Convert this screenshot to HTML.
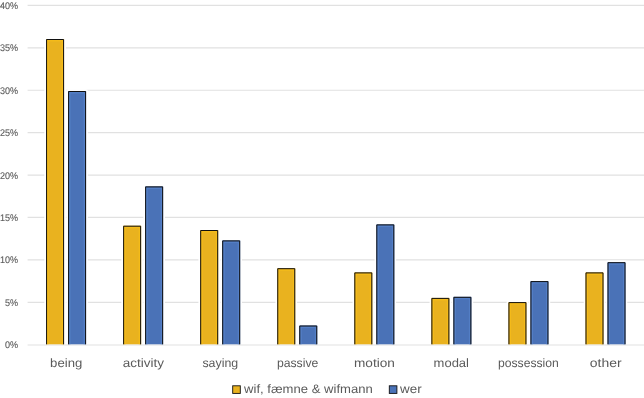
<!DOCTYPE html>
<html><head><meta charset="utf-8"><title>chart</title>
<style>
html,body{margin:0;padding:0;background:#fff;}
body{width:644px;height:398px;overflow:hidden;font-family:"Liberation Sans",sans-serif;}
svg{display:block}
text{font-family:"Liberation Sans",sans-serif;fill:#5a5a5a;text-rendering:geometricPrecision}
</style></head><body>
<svg width="644" height="398" viewBox="0 0 644 398">

<line x1="27.6" y1="302.29" x2="644" y2="302.29" stroke="#E1E1E1" stroke-width="1.2"/>
<line x1="27.6" y1="259.88" x2="644" y2="259.88" stroke="#E1E1E1" stroke-width="1.2"/>
<line x1="27.6" y1="217.47" x2="644" y2="217.47" stroke="#E1E1E1" stroke-width="1.2"/>
<line x1="27.6" y1="175.06" x2="644" y2="175.06" stroke="#E1E1E1" stroke-width="1.2"/>
<line x1="27.6" y1="132.65" x2="644" y2="132.65" stroke="#E1E1E1" stroke-width="1.2"/>
<line x1="27.6" y1="90.24" x2="644" y2="90.24" stroke="#E1E1E1" stroke-width="1.2"/>
<line x1="27.6" y1="47.83" x2="644" y2="47.83" stroke="#E1E1E1" stroke-width="1.2"/>
<line x1="27.6" y1="5.42" x2="644" y2="5.42" stroke="#E1E1E1" stroke-width="1.2"/>
<rect x="44.28" y="37.20" width="21.6" height="309.30" rx="1.8" fill="#fff"/>
<rect x="66.28" y="89.20" width="21.6" height="257.30" rx="1.8" fill="#fff"/>
<rect x="121.34" y="223.90" width="21.6" height="122.60" rx="1.8" fill="#fff"/>
<rect x="143.34" y="184.60" width="21.6" height="161.90" rx="1.8" fill="#fff"/>
<rect x="198.40" y="228.20" width="21.6" height="118.30" rx="1.8" fill="#fff"/>
<rect x="220.40" y="238.60" width="21.6" height="107.90" rx="1.8" fill="#fff"/>
<rect x="275.46" y="266.40" width="21.6" height="80.10" rx="1.8" fill="#fff"/>
<rect x="297.46" y="323.70" width="21.6" height="22.80" rx="1.8" fill="#fff"/>
<rect x="352.52" y="270.60" width="21.6" height="75.90" rx="1.8" fill="#fff"/>
<rect x="374.52" y="222.60" width="21.6" height="123.90" rx="1.8" fill="#fff"/>
<rect x="429.58" y="296.10" width="21.6" height="50.40" rx="1.8" fill="#fff"/>
<rect x="451.58" y="295.00" width="21.6" height="51.50" rx="1.8" fill="#fff"/>
<rect x="506.64" y="300.30" width="21.6" height="46.20" rx="1.8" fill="#fff"/>
<rect x="528.64" y="279.30" width="21.6" height="67.20" rx="1.8" fill="#fff"/>
<rect x="583.70" y="270.60" width="21.6" height="75.90" rx="1.8" fill="#fff"/>
<rect x="605.70" y="260.40" width="21.6" height="86.10" rx="1.8" fill="#fff"/>
<line x1="27.6" y1="345.00" x2="644" y2="345.00" stroke="#E1E1E1" stroke-width="1.2"/>
<rect x="46.08" y="39.00" width="18" height="305.30" fill="#E9B21F"/>
<path d="M47.78 344.30 V40.70 H62.38 V344.30" fill="none" stroke="#F7BE19" stroke-width="1.6" stroke-opacity="0.75"/>
<path d="M46.58 344.30 V39.50 H63.58 V344.30" fill="none" stroke="#101010" stroke-width="1"/>
<rect x="68.08" y="91.00" width="18" height="253.30" fill="#4A72B7"/>
<path d="M69.78 344.30 V92.70 H84.38 V344.30" fill="none" stroke="#5783C9" stroke-width="1.6" stroke-opacity="0.75"/>
<path d="M68.58 344.30 V91.50 H85.58 V344.30" fill="none" stroke="#101010" stroke-width="1"/>
<rect x="123.14" y="225.70" width="18" height="118.60" fill="#E9B21F"/>
<path d="M124.84 344.30 V227.40 H139.44 V344.30" fill="none" stroke="#F7BE19" stroke-width="1.6" stroke-opacity="0.75"/>
<path d="M123.64 344.30 V226.20 H140.64 V344.30" fill="none" stroke="#101010" stroke-width="1"/>
<rect x="145.14" y="186.40" width="18" height="157.90" fill="#4A72B7"/>
<path d="M146.84 344.30 V188.10 H161.44 V344.30" fill="none" stroke="#5783C9" stroke-width="1.6" stroke-opacity="0.75"/>
<path d="M145.64 344.30 V186.90 H162.64 V344.30" fill="none" stroke="#101010" stroke-width="1"/>
<rect x="200.20" y="230.00" width="18" height="114.30" fill="#E9B21F"/>
<path d="M201.90 344.30 V231.70 H216.50 V344.30" fill="none" stroke="#F7BE19" stroke-width="1.6" stroke-opacity="0.75"/>
<path d="M200.70 344.30 V230.50 H217.70 V344.30" fill="none" stroke="#101010" stroke-width="1"/>
<rect x="222.20" y="240.40" width="18" height="103.90" fill="#4A72B7"/>
<path d="M223.90 344.30 V242.10 H238.50 V344.30" fill="none" stroke="#5783C9" stroke-width="1.6" stroke-opacity="0.75"/>
<path d="M222.70 344.30 V240.90 H239.70 V344.30" fill="none" stroke="#101010" stroke-width="1"/>
<rect x="277.26" y="268.20" width="18" height="76.10" fill="#E9B21F"/>
<path d="M278.96 344.30 V269.90 H293.56 V344.30" fill="none" stroke="#F7BE19" stroke-width="1.6" stroke-opacity="0.75"/>
<path d="M277.76 344.30 V268.70 H294.76 V344.30" fill="none" stroke="#101010" stroke-width="1"/>
<rect x="299.26" y="325.50" width="18" height="18.80" fill="#4A72B7"/>
<path d="M300.96 344.30 V327.20 H315.56 V344.30" fill="none" stroke="#5783C9" stroke-width="1.6" stroke-opacity="0.75"/>
<path d="M299.76 344.30 V326.00 H316.76 V344.30" fill="none" stroke="#101010" stroke-width="1"/>
<rect x="354.32" y="272.40" width="18" height="71.90" fill="#E9B21F"/>
<path d="M356.02 344.30 V274.10 H370.62 V344.30" fill="none" stroke="#F7BE19" stroke-width="1.6" stroke-opacity="0.75"/>
<path d="M354.82 344.30 V272.90 H371.82 V344.30" fill="none" stroke="#101010" stroke-width="1"/>
<rect x="376.32" y="224.40" width="18" height="119.90" fill="#4A72B7"/>
<path d="M378.02 344.30 V226.10 H392.62 V344.30" fill="none" stroke="#5783C9" stroke-width="1.6" stroke-opacity="0.75"/>
<path d="M376.82 344.30 V224.90 H393.82 V344.30" fill="none" stroke="#101010" stroke-width="1"/>
<rect x="431.38" y="297.90" width="18" height="46.40" fill="#E9B21F"/>
<path d="M433.08 344.30 V299.60 H447.68 V344.30" fill="none" stroke="#F7BE19" stroke-width="1.6" stroke-opacity="0.75"/>
<path d="M431.88 344.30 V298.40 H448.88 V344.30" fill="none" stroke="#101010" stroke-width="1"/>
<rect x="453.38" y="296.80" width="18" height="47.50" fill="#4A72B7"/>
<path d="M455.08 344.30 V298.50 H469.68 V344.30" fill="none" stroke="#5783C9" stroke-width="1.6" stroke-opacity="0.75"/>
<path d="M453.88 344.30 V297.30 H470.88 V344.30" fill="none" stroke="#101010" stroke-width="1"/>
<rect x="508.44" y="302.10" width="18" height="42.20" fill="#E9B21F"/>
<path d="M510.14 344.30 V303.80 H524.74 V344.30" fill="none" stroke="#F7BE19" stroke-width="1.6" stroke-opacity="0.75"/>
<path d="M508.94 344.30 V302.60 H525.94 V344.30" fill="none" stroke="#101010" stroke-width="1"/>
<rect x="530.44" y="281.10" width="18" height="63.20" fill="#4A72B7"/>
<path d="M532.14 344.30 V282.80 H546.74 V344.30" fill="none" stroke="#5783C9" stroke-width="1.6" stroke-opacity="0.75"/>
<path d="M530.94 344.30 V281.60 H547.94 V344.30" fill="none" stroke="#101010" stroke-width="1"/>
<rect x="585.50" y="272.40" width="18" height="71.90" fill="#E9B21F"/>
<path d="M587.20 344.30 V274.10 H601.80 V344.30" fill="none" stroke="#F7BE19" stroke-width="1.6" stroke-opacity="0.75"/>
<path d="M586.00 344.30 V272.90 H603.00 V344.30" fill="none" stroke="#101010" stroke-width="1"/>
<rect x="607.50" y="262.20" width="18" height="82.10" fill="#4A72B7"/>
<path d="M609.20 344.30 V263.90 H623.80 V344.30" fill="none" stroke="#5783C9" stroke-width="1.6" stroke-opacity="0.75"/>
<path d="M608.00 344.30 V262.70 H625.00 V344.30" fill="none" stroke="#101010" stroke-width="1"/>
<rect x="232.7" y="385.8" width="7.6" height="7.6" fill="#E9B21F" stroke="#101010" stroke-width="0.9"/>
<rect x="389.3" y="385.8" width="7.6" height="7.6" fill="#4A72B7" stroke="#101010" stroke-width="0.9"/>
<g style="will-change:transform">
<text x="18.1" y="348.20" font-size="9.6" fill="#606060" stroke="#606060" stroke-width="0.12" text-anchor="end" textLength="13.1" lengthAdjust="spacingAndGlyphs">0%</text>
<text x="18.1" y="305.79" font-size="9.6" fill="#606060" stroke="#606060" stroke-width="0.12" text-anchor="end" textLength="13.1" lengthAdjust="spacingAndGlyphs">5%</text>
<text x="18.1" y="263.38" font-size="9.6" fill="#606060" stroke="#606060" stroke-width="0.12" text-anchor="end" textLength="18.1" lengthAdjust="spacingAndGlyphs">10%</text>
<text x="18.1" y="220.97" font-size="9.6" fill="#606060" stroke="#606060" stroke-width="0.12" text-anchor="end" textLength="18.1" lengthAdjust="spacingAndGlyphs">15%</text>
<text x="18.1" y="178.56" font-size="9.6" fill="#606060" stroke="#606060" stroke-width="0.12" text-anchor="end" textLength="18.1" lengthAdjust="spacingAndGlyphs">20%</text>
<text x="18.1" y="136.15" font-size="9.6" fill="#606060" stroke="#606060" stroke-width="0.12" text-anchor="end" textLength="18.1" lengthAdjust="spacingAndGlyphs">25%</text>
<text x="18.1" y="93.74" font-size="9.6" fill="#606060" stroke="#606060" stroke-width="0.12" text-anchor="end" textLength="18.1" lengthAdjust="spacingAndGlyphs">30%</text>
<text x="18.1" y="51.33" font-size="9.6" fill="#606060" stroke="#606060" stroke-width="0.12" text-anchor="end" textLength="18.1" lengthAdjust="spacingAndGlyphs">35%</text>
<text x="18.1" y="8.92" font-size="9.6" fill="#606060" stroke="#606060" stroke-width="0.12" text-anchor="end" textLength="18.1" lengthAdjust="spacingAndGlyphs">40%</text>
<text x="50.1" y="366.7" font-size="12.2" textLength="32.2" lengthAdjust="spacingAndGlyphs">being</text>
<text x="122.7" y="366.7" font-size="12.2" textLength="41.3" lengthAdjust="spacingAndGlyphs">activity</text>
<text x="202.4" y="366.7" font-size="12.2" textLength="35.8" lengthAdjust="spacingAndGlyphs">saying</text>
<text x="276.9" y="366.7" font-size="12.2" textLength="41.4" lengthAdjust="spacingAndGlyphs">passive</text>
<text x="354.0" y="366.7" font-size="12.2" textLength="40.9" lengthAdjust="spacingAndGlyphs">motion</text>
<text x="433.6" y="366.7" font-size="12.2" textLength="35.4" lengthAdjust="spacingAndGlyphs">modal</text>
<text x="498.0" y="366.7" font-size="12.2" textLength="60.8" lengthAdjust="spacingAndGlyphs">possession</text>
<text x="589.8" y="366.7" font-size="12.2" textLength="31.8" lengthAdjust="spacingAndGlyphs">other</text>
<text x="244.1" y="393.1" font-size="12.2" textLength="128.7" lengthAdjust="spacingAndGlyphs">wif, fæmne &amp; wifmann</text>
<text x="400.1" y="393.1" font-size="12.2" textLength="21.6" lengthAdjust="spacingAndGlyphs">wer</text>
</g>
</svg></body></html>
